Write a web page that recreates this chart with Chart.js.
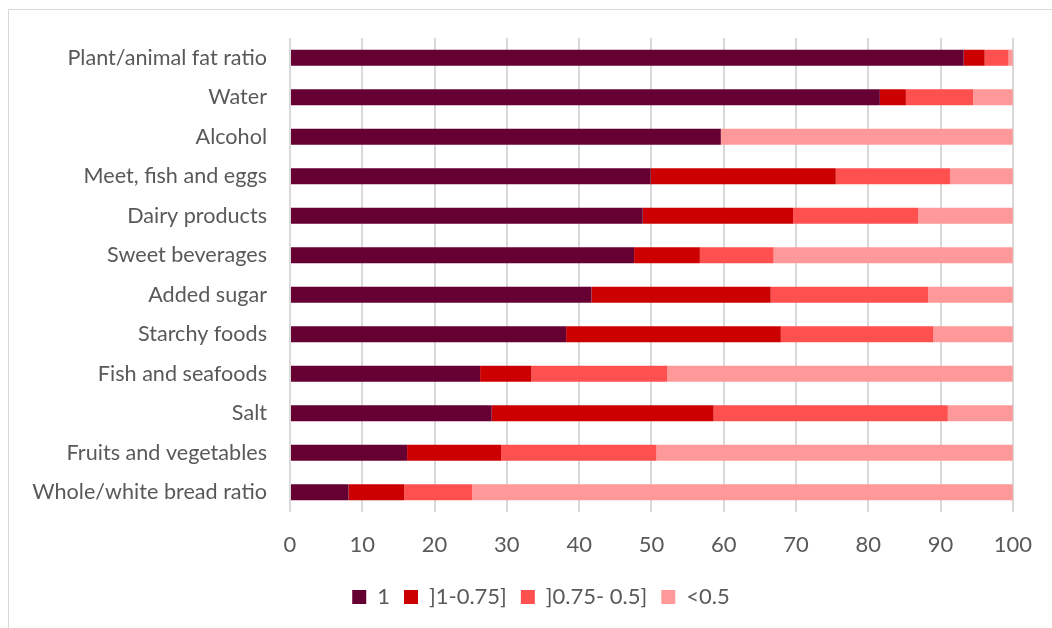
<!DOCTYPE html>
<html>
<head>
<meta charset="utf-8">
<script src="https://cdn.jsdelivr.net/npm/chart.js@4"></script>
<style>
  html, body { margin: 0; padding: 0; background: #fff; overflow: hidden; }
  #frame { position: absolute; left: 8px; top: 9px; width: 1100px; height: 700px; border: 1px solid #d9d9d9; }
  #wrap { position: absolute; left: 0; top: 0; width: 1052px; height: 628px; }
</style>
</head>
<body>
<div id="frame"></div>
<div id="wrap"><canvas id="chart"></canvas></div>
<script>
// categories, top to bottom
const categories = [
  'Plant/animal fat ratio', 'Water', 'Alcohol', 'Meet, fish and eggs', 'Dairy products',
  'Sweet beverages', 'Added sugar', 'Starchy foods', 'Fish and seafoods', 'Salt',
  'Fruits and vegetables', 'Whole/white bread ratio'
];

// share of participants (%) per score band
const score1      = [93.2, 81.6, 59.6, 49.9, 48.8, 47.6, 41.7, 38.2, 26.3, 27.9, 16.2, 8.1];
const score1to075 = [2.9, 3.6, 0, 25.6, 20.8, 9.1, 24.8, 29.7, 7.1, 30.7, 13.0, 7.7];
const score075to05 = [3.3, 9.3, 0, 15.8, 17.3, 10.2, 21.8, 21.1, 18.8, 32.4, 21.5, 9.4];
const scoreBelow05 = [0.6, 5.5, 40.4, 8.7, 13.1, 33.1, 11.7, 11.0, 47.8, 9.0, 49.3, 74.8];

const seriesLabels = ['1', ']1-0.75]', ']0.75- 0.5]', '<0.5'];
const seriesColors = ['#660033', '#CC0000', '#FF5050', '#FF9999'];
const xTicks = [0, 10, 20, 30, 40, 50, 60, 70, 80, 90, 100];

const textColor = '#595959';
const fontFamily = 'Lato, "Open Sans", sans-serif';

const seriesData = [score1, score1to075, score075to05, scoreBelow05];

// nudge the legend so it sits a little right of the canvas centre, as in the original
const legendShift = {
  id: 'legendShift',
  afterLayout(chart) { chart.legend.left += 64; },
};

new Chart(document.getElementById('chart'), {
  type: 'bar',
  data: {
    labels: categories,
    datasets: seriesData.map((d, i) => ({
      label: seriesLabels[i],
      data: d,
      backgroundColor: seriesColors[i],
      borderWidth: 0,
      barPercentage: 0.405,
      categoryPercentage: 1,
    })),
  },
  options: {
    indexAxis: 'y',
    responsive: true,
    maintainAspectRatio: false,
    animation: false,
    layout: { padding: { top: 38, right: 34, left: 0, bottom: 10 } },
    plugins: {
      legend: {
        position: 'bottom',
        labels: {
          color: textColor,
          font: { family: fontFamily, size: 22 },
          boxWidth: 14,
          boxHeight: 14,
          padding: 14,
        },
      },
      tooltip: { enabled: false },
    },
    scales: {
      x: {
        stacked: true,
        min: 0,
        max: 100,
        afterBuildTicks: s => { s.ticks = xTicks.map(v => ({ value: v })); },
        grid: { color: '#d9d9d9', lineWidth: 2, drawTicks: false },
        border: { display: false },
        ticks: { color: textColor, font: { family: fontFamily, size: 22 }, padding: 20 },
        afterFit: s => { s.height = 60; },
      },
      y: {
        stacked: true,
        grid: { display: false, drawTicks: false },
        border: { display: false },
        ticks: { color: textColor, font: { family: fontFamily, size: 21.6 }, padding: 23, autoSkip: false },
        afterFit: s => { s.width = 290; },
      },
    },
  },
  plugins: [legendShift],
});
</script>
</body>
</html>
